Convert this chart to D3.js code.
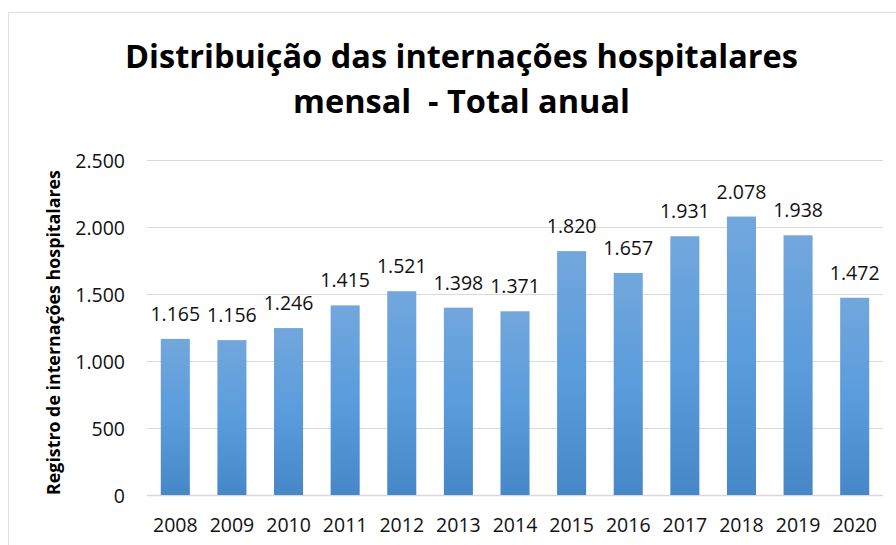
<!DOCTYPE html>
<html>
<head>
<meta charset="utf-8">
<script src="https://cdn.jsdelivr.net/npm/d3@7"></script>
<style>
  html, body { margin: 0; padding: 0; background: #fff; }
  svg { display: block; font-family: "Open Sans", sans-serif; }
  text { white-space: pre; }
</style>
</head>
<body>
<div id="chart"></div>
<script>
// Internações hospitalares por ano
const years = ['2008', '2009', '2010', '2011', '2012', '2013', '2014',
               '2015', '2016', '2017', '2018', '2019', '2020'];
const totals = [1165, 1156, 1246, 1415, 1521, 1398, 1371,
                1820, 1657, 1931, 2078, 1938, 1472];
const yTicks = [0, 500, 1000, 1500, 2000, 2500];
const titleLines = ['Distribuição das internações hospitalares', 'mensal  - Total anual'];
const yTitle = 'Registro de internações hospitalares';

const width = 896, height = 545;
const margin = { top: 160, right: 13, bottom: 50, left: 147 };

// pt-BR number format (1.165)
const fmt = d3.formatLocale({ decimal: ',', thousands: '.', grouping: [3], currency: ['R$', ''] }).format(',d');

const svg = d3.select('#chart')
    .append('svg')
    .attr('width', width)
    .attr('height', height);

// bar gradient
const grad = svg.append('defs')
    .append('linearGradient')
    .attr('id', 'barGrad')
    .attr('x1', 0).attr('y1', 0)
    .attr('x2', 0).attr('y2', 1);
grad.append('stop').attr('offset', '0%').attr('stop-color', '#72a7dc');
grad.append('stop').attr('offset', '50%').attr('stop-color', '#5a9cdc');
grad.append('stop').attr('offset', '100%').attr('stop-color', '#4587c7');

// chart frame
svg.append('rect')
    .attr('x', 8.5).attr('y', 12.5)
    .attr('width', 1000).attr('height', 1000)
    .attr('fill', 'none')
    .attr('stroke', '#dadfe6');

const x = d3.scaleBand()
    .domain(years)
    .range([margin.left, width - margin.right])
    .paddingInner(0.487)
    .paddingOuter(0.2435);

const y = d3.scaleLinear()
    .domain([0, 2500])
    .range([height - margin.bottom, margin.top]);

// gridlines
svg.append('g')
    .selectAll('line')
    .data(yTicks)
    .join('line')
    .attr('x1', margin.left)
    .attr('x2', width - margin.right)
    .attr('y1', d => Math.round(y(d)) + 0.5)
    .attr('y2', d => Math.round(y(d)) + 0.5)
    .attr('stroke', '#d9d9d9')
    .attr('stroke-width', d => d === 0 ? 1.5 : 1);

// y axis tick labels
const yAxis = svg.append('g')
    .attr('transform', `translate(${margin.left - 22},0)`)
    .call(d3.axisLeft(y).tickValues(yTicks).tickFormat(fmt).tickSize(0).tickPadding(0));
yAxis.select('.domain').remove();
yAxis.selectAll('text')
    .attr('font-family', '"Open Sans", sans-serif')
    .attr('font-size', 19.5)
    .attr('fill', '#111')
    .attr('dy', '0.36em');

// x axis labels
const xAxis = svg.append('g')
    .attr('transform', `translate(0,${height - margin.bottom})`)
    .call(d3.axisBottom(x).tickSize(0).tickPadding(0));
xAxis.select('.domain').remove();
xAxis.selectAll('text')
    .attr('font-family', '"Open Sans", sans-serif')
    .attr('font-size', 19.5)
    .attr('fill', '#111')
    .attr('dy', null)
    .attr('y', 37);

// bars
svg.append('g')
    .selectAll('rect')
    .data(totals)
    .join('rect')
    .attr('x', (d, i) => x(years[i]))
    .attr('y', d => y(d))
    .attr('width', x.bandwidth())
    .attr('height', d => y(0) - y(d))
    .attr('fill', 'url(#barGrad)');

// data labels
svg.append('g')
    .selectAll('text')
    .data(totals)
    .join('text')
    .attr('x', (d, i) => x(years[i]) + x.bandwidth() / 2)
    .attr('y', d => y(d) - 18)
    .attr('text-anchor', 'middle')
    .attr('font-size', 19.5)
    .attr('fill', '#111')
    .text(d => fmt(d));

// shrink/grow font so the text spans the given width
function fitWidth(sel, target) {
    const fs = +sel.attr('font-size');
    const len = sel.node().getComputedTextLength();
    sel.attr('font-size', fs * target / len);
}

// title
const title = svg.append('g')
    .selectAll('text')
    .data(titleLines)
    .join('text')
    .attr('x', 461.5)
    .attr('y', (d, i) => 68 + i * 45)
    .attr('text-anchor', 'middle')
    .attr('font-size', 29)
    .attr('font-weight', 700)
    .attr('fill', '#000')
    .text(d => d);
const t0 = d3.select(title.nodes()[0]);
fitWidth(t0, 673);
title.attr('font-size', t0.attr('font-size'));

// y axis title
const yt = svg.append('text')
    .attr('transform', `translate(60,332.5) rotate(-90)`)
    .attr('text-anchor', 'middle')
    .attr('font-size', 15)
    .attr('font-weight', 700)
    .attr('fill', '#000')
    .text(yTitle);
fitWidth(yt, 325);
</script>
</body>
</html>
